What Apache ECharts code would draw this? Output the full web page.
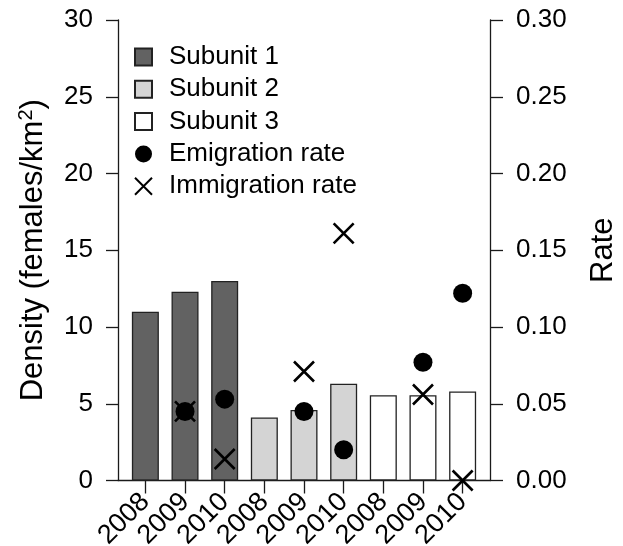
<!DOCTYPE html>
<html>
<head>
<meta charset="utf-8">
<script src="https://cdn.jsdelivr.net/npm/echarts@6/dist/echarts.min.js"></script>
<style>
  html, body { margin: 0; padding: 0; background: #fff; }
  #chart { width: 623px; height: 546px; }
</style>
</head>
<body>
<div id="chart"></div>
<script>
// ---- Data ----
const yearLabels = ['2008', '2009', '2010', '2008', '2009', '2010', '2008', '2009', '2010'];
const subunit1Density = [11.0, 12.3, 13.0, null, null, null, null, null, null];
const subunit2Density = [null, null, null, 4.1, 4.6, 6.3, null, null, null];
const subunit3Density = [null, null, null, null, null, null, 5.55, 5.55, 5.8];
const emigrationRate = [null, 0.045, 0.053, null, 0.045, 0.020, null, 0.077, 0.122];
const immigrationRate = [null, 0.045, 0.014, null, 0.071, 0.161, null, 0.056, 0.0];
const leftTicks = [0, 30, 5];      // min, max, interval
const rightTicks = [0, 0.30, 0.05];

const FONT = 'Liberation Sans, Arial, Helvetica, sans-serif';
const AXIS_COLOR = '#1a1a1a';
const idx = yearLabels.map((_, i) => i);

function pairs(arr) {
  const out = [];
  arr.forEach((v, i) => { if (v !== null && v !== undefined) out.push([i, v]); });
  return out;
}

const crossPath = 'path://M0,0L20,20M20,0L0,20';

const chart = echarts.init(document.getElementById('chart'), null, { renderer: 'canvas' });

const barCommon = {
  type: 'bar',
  barWidth: 27,
  barGap: '-100%',
  xAxisIndex: 0,
  yAxisIndex: 0
};

const option = {
  backgroundColor: '#ffffff',
  animation: false,
  textStyle: { fontFamily: FONT, color: '#000' },
  grid: { left: 118, right: 133, top: 20, bottom: 65.5, containLabel: false, outerBoundsMode: 'none' },
  legend: {
    orient: 'vertical',
    left: 134,
    top: 44,
    padding: 0,
    itemWidth: 17,
    itemHeight: 17,
    itemGap: 6.3,
    selectedMode: false,
    textStyle: { fontFamily: FONT, fontSize: 26, color: '#000', lineHeight: 26, padding: [0, 0, 0, 12] },
    data: [
      { name: 'Subunit 1', icon: 'rect' },
      { name: 'Subunit 2', icon: 'rect' },
      { name: 'Subunit 3', icon: 'rect' },
      { name: 'Emigration rate', icon: 'circle' },
      { name: 'Immigration rate', icon: crossPath }
    ]
  },
  xAxis: {
    type: 'value',
    min: -0.69,
    max: 8.69,
    splitLine: { show: false },
    axisLine: { show: true, onZero: false, lineStyle: { color: AXIS_COLOR, width: 1.3 } },
    axisTick: {
      show: true, inside: false, length: 13,
      customValues: idx,
      lineStyle: { color: AXIS_COLOR, width: 1.3 }
    },
    axisLabel: {
      show: true,
      customValues: idx,
      rotate: 45,
      margin: 17,
      fontSize: 27,
      fontFamily: FONT,
      color: '#000',
      showMinLabel: true,
      showMaxLabel: true,
      hideOverlap: false,
      formatter: function (v) { return yearLabels[Math.round(v)] || ''; }
    }
  },
  yAxis: [
    {
      type: 'value',
      position: 'left',
      min: leftTicks[0], max: leftTicks[1], interval: leftTicks[2],
      splitLine: { show: false },
      axisLine: { show: true, onZero: false, lineStyle: { color: AXIS_COLOR, width: 1.3 } },
      axisTick: { show: true, inside: false, length: 12, lineStyle: { color: AXIS_COLOR, width: 1.3 } },
      axisLabel: { fontSize: 26, fontFamily: FONT, color: '#000', margin: 25 },
      name: 'Density (females/km{sup|2})',
      nameLocation: 'middle',
      nameGap: 68,
      nameTextStyle: {
        fontSize: 31, fontFamily: FONT, color: '#000', lineHeight: 34,
        rich: { sup: { fontSize: 20, fontFamily: FONT, color: '#000', verticalAlign: 'top', lineHeight: 20 } }
      }
    },
    {
      type: 'value',
      position: 'right',
      min: rightTicks[0], max: rightTicks[1], interval: rightTicks[2],
      splitLine: { show: false },
      axisLine: { show: true, onZero: false, lineStyle: { color: AXIS_COLOR, width: 1.3 } },
      axisTick: { show: true, inside: false, length: 13, lineStyle: { color: AXIS_COLOR, width: 1.3 } },
      axisLabel: {
        fontSize: 26, fontFamily: FONT, color: '#000', margin: 26,
        formatter: function (v) { return v.toFixed(2); }
      },
      name: 'Rate',
      nameLocation: 'middle',
      nameGap: 96,
      nameTextStyle: { fontSize: 31, fontFamily: FONT, color: '#000', lineHeight: 34 }
    }
  ],
  series: [
    Object.assign({}, barCommon, {
      name: 'Subunit 1',
      data: pairs(subunit1Density),
      itemStyle: { color: '#626262', borderColor: '#222', borderWidth: 1.3 }
    }),
    Object.assign({}, barCommon, {
      name: 'Subunit 2',
      data: pairs(subunit2Density),
      itemStyle: { color: '#d4d4d4', borderColor: '#222', borderWidth: 1.3 }
    }),
    Object.assign({}, barCommon, {
      name: 'Subunit 3',
      data: pairs(subunit3Density),
      itemStyle: { color: '#ffffff', borderColor: '#222', borderWidth: 1.3 }
    }),
    {
      name: 'Emigration rate',
      type: 'scatter',
      xAxisIndex: 0,
      yAxisIndex: 1,
      symbol: 'circle',
      symbolSize: 19,
      z: 3,
      itemStyle: { color: '#000', opacity: 1 },
      data: pairs(emigrationRate)
    },
    {
      name: 'Immigration rate',
      type: 'scatter',
      xAxisIndex: 0,
      yAxisIndex: 1,
      symbol: crossPath,
      symbolSize: 20,
      z: 4,
      itemStyle: { color: 'transparent', borderColor: '#000', borderWidth: 2.6, opacity: 1 },
      data: pairs(immigrationRate)
    }
  ]
};

chart.setOption(option);
</script>
</body>
</html>
